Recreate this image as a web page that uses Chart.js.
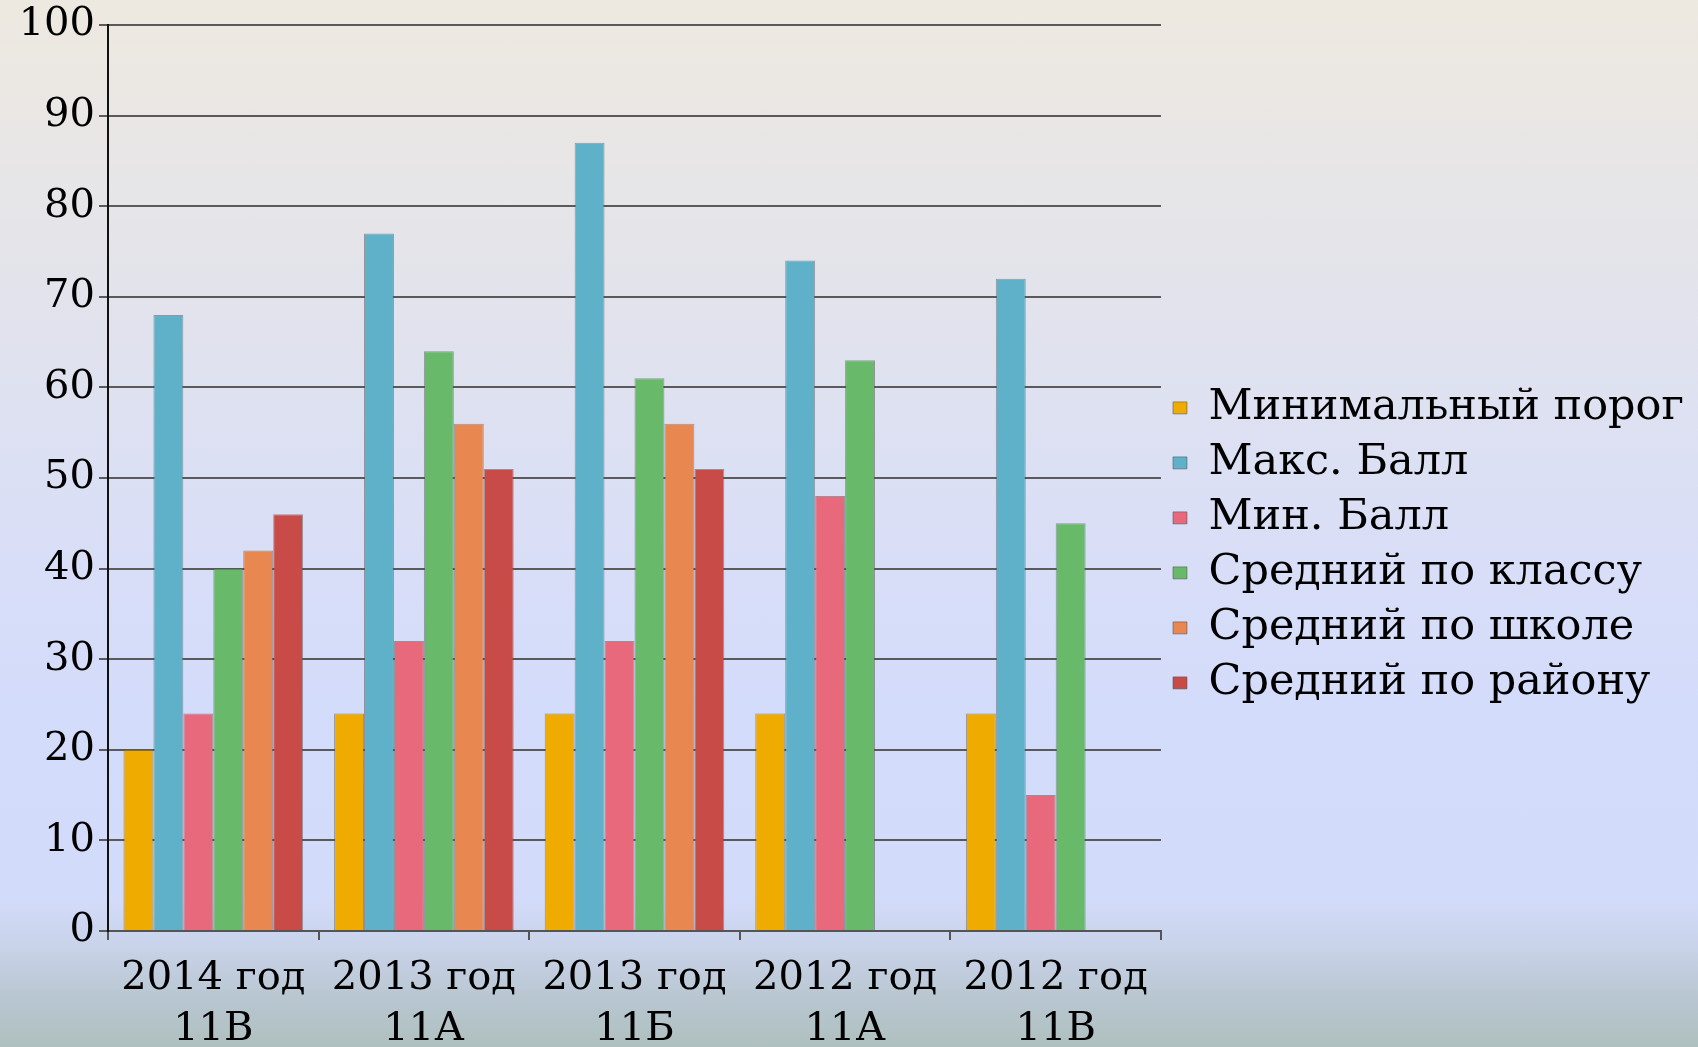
<!DOCTYPE html>
<html lang="ru">
<head>
    <meta charset="UTF-8">
    <title>Результаты ЕГЭ</title>
    <script src="https://cdn.jsdelivr.net/npm/chart.js@4.4.0/dist/chart.umd.min.js"></script>
    <style>
        html, body {
            margin: 0;
            padding: 0;
            width: 1698px;
            height: 1047px;
            overflow: hidden;
            background: linear-gradient(to bottom,
                #eee9e0 0px, #e2e3ec 300px, #dadff6 520px, #d4dcfb 700px,
                #d3dbfa 900px, #c8d2e8 950px, #b8c6d0 1000px, #afc0bf 1047px);
        }
        #wrap { width: 1698px; height: 1047px; }
    </style>
</head>
<body>
<div id="wrap"><canvas id="myChart" width="1698" height="1047"></canvas></div>

<script>
    // categories (two-line labels)
    var categories = [
        ["2014 год", "11В"],
        ["2013 год", "11А"],
        ["2013 год", "11Б"],
        ["2012 год", "11А"],
        ["2012 год", "11В"]
    ];

    var seriesNames = [
        "Минимальный порог",
        "Макс. Балл",
        "Мин. Балл",
        "Средний по классу",
        "Средний по школе",
        "Средний по району"
    ];

    var minThreshold = [20, 24, 24, 24, 24];
    var maxScore = [68, 77, 87, 74, 72];
    var minScore = [24, 32, 32, 48, 15];
    var classAvg = [40, 64, 61, 63, 45];
    var schoolAvg = [42, 56, 56, null, null];
    var districtAvg = [46, 51, 51, null, null];

    var yTicks = [0, 10, 20, 30, 40, 50, 60, 70, 80, 90, 100];

    var colors = ["#efab00", "#5fb1c9", "#e8697c", "#69b96b", "#e8874f", "#c84b47"];

    var serif = "'DejaVu Serif', 'Liberation Serif', serif";

    var allSeries = [minThreshold, maxScore, minScore, classAvg, schoolAvg, districtAvg];
    var datasets = [];
    for (var i = 0; i < allSeries.length; i++) {
        datasets.push({
            label: seriesNames[i],
            data: allSeries[i],
            backgroundColor: colors[i],
            borderColor: "rgba(85,85,85,0.55)",
            borderWidth: 1,
            borderSkipped: "bottom",
            categoryPercentage: 0.853,
            barPercentage: 1.0
        });
    }

    var ctx = document.getElementById("myChart").getContext("2d");
    var chart = new Chart(ctx, {
        type: "bar",
        data: { labels: categories, datasets: datasets },
        options: {
            responsive: false,
            animation: false,
            layout: { padding: { top: 0, left: 0, bottom: 0, right: 4 } },
            plugins: {
                tooltip: { enabled: false },
                legend: {
                    position: "right",
                    align: "start",
                    maxWidth: 600,
                    // empty title only pushes the legend rows down
                    title: { display: true, text: "", padding: { top: 0, bottom: 360 }, font: { size: 12 } },
                    labels: {
                        boxWidth: 14,
                        boxHeight: 12,
                        padding: 12,
                        color: "#000",
                        font: { family: serif, size: 43 }
                    }
                }
            },
            scales: {
                x: {
                    afterFit: function (scale) { scale.height = 116; },
                    grid: {
                        offset: true,
                        drawOnChartArea: false,
                        drawTicks: true,
                        tickLength: 9,
                        color: "#555",
                        lineWidth: 2
                    },
                    border: { display: true, color: "#555", width: 2 },
                    ticks: {
                        autoSkip: false,
                        maxRotation: 0,
                        padding: 13,
                        color: "#000",
                        font: { family: serif, size: 40, lineHeight: 1.27 }
                    }
                },
                y: {
                    min: 0,
                    max: 100,
                    afterFit: function (scale) { scale.width = 108; },
                    afterBuildTicks: function (scale) {
                        scale.ticks = yTicks.map(function (v) { return { value: v }; });
                    },
                    grid: {
                        color: "#5a5a5a",
                        lineWidth: 2,
                        tickLength: 9
                    },
                    border: { display: true, color: "#111", width: 2 },
                    ticks: {
                        padding: 4,
                        color: "#000",
                        font: { family: serif, size: 40, lineHeight: 1.05 }
                    }
                }
            }
        }
    });
</script>
</body>
</html>
